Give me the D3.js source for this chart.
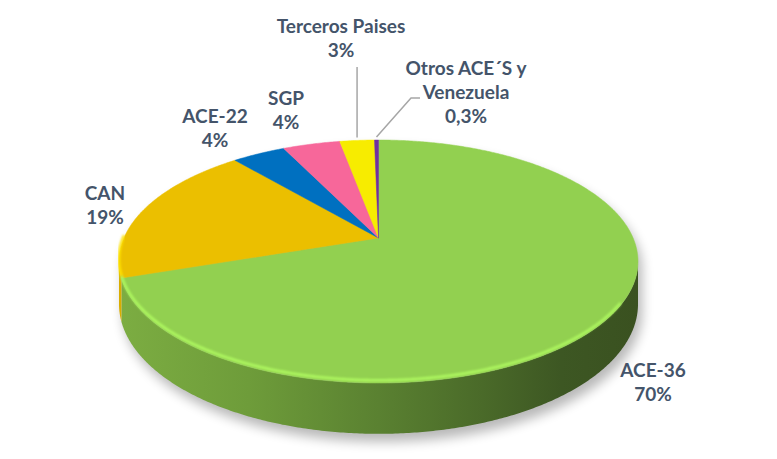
<!DOCTYPE html>
<html>
<head>
<meta charset="utf-8">
<script src="https://cdn.jsdelivr.net/npm/d3@7"></script>
<style>
  html, body { margin: 0; padding: 0; background: #ffffff; }
  svg { display: block; }
  text { font-family: Lato, "Liberation Sans", Arial, sans-serif; font-weight: bold; fill: #44546a; }
</style>
</head>
<body>
<svg id="chart" width="777" height="459"></svg>
<script>
// ---- data ----
const categories = ["ACE-36", "CAN", "ACE-22", "SGP", "Terceros Paises", "Otros ACE´S y Venezuela"];
const values = [69.8, 19.0, 4.0, 4.3, 2.6, 0.3];
const percentLabels = ["70%", "19%", "4%", "4%", "3%", "0,3%"];
const labelLines = [["ACE-36"], ["CAN"], ["ACE-22"], ["SGP"], ["Terceros Paises"], ["Otros ACE´S y", "Venezuela"]];

// ---- styling / layout ----
const topColors = ["#92d050", "#ebbf00", "#0070c0", "#f7679a", "#f7ec00", "#7030a0"];
const sideColors = [null, "#d9ad00", "#005a9c", "#d94f80", "#d8cc00", "#5a2080"];
const labelAnchors = [[653, 377], [105, 200], [215, 123], [286, 105], [341, 33], [466, 75]];
const lineH = 24;

const svg = d3.select("#chart");
const cx = 378.5, cy = 238;        // projected centre of the top face
const A = 254.6, B = 116.95;       // horizontal / vertical radii factors
const k = 0.1934;                  // perspective factor
const T = 41;                      // thickness

function proj(theta, depth) {
  const u = Math.sin(theta), v = -Math.cos(theta);
  const w = 1 - k * v;
  return [cx + A * u / w, cy + (B * v + depth) / w];
}
function arcPts(a0, a1, depth) {
  const n = Math.max(2, Math.ceil(Math.abs(a1 - a0) / (Math.PI / 360)));
  return d3.range(n + 1).map(i => proj(a0 + (a1 - a0) * i / n, depth));
}

const data = categories.map((c, i) => ({ name: c, value: values[i], i }));
const pie = d3.pie().sort(null).value(d => d.value).startAngle(0).endAngle(2 * Math.PI);
const arcs = pie(data);
const line = d3.line();

const defs = svg.append("defs");
const blur = defs.append("filter").attr("id", "shadowBlur")
  .attr("x", "-20%").attr("y", "-20%").attr("width", "140%").attr("height", "140%");
blur.append("feGaussianBlur").attr("stdDeviation", 6);
const soft = defs.append("filter").attr("id", "soft")
  .attr("x", "-5%").attr("y", "-5%").attr("width", "110%").attr("height", "110%");
soft.append("feGaussianBlur").attr("stdDeviation", 1.2);

const grad = defs.append("linearGradient").attr("id", "greenSide")
  .attr("gradientUnits", "userSpaceOnUse").attr("x1", cx - A * 1.02).attr("x2", cx + A * 1.02).attr("y1", 0).attr("y2", 0);
[[0, "#7cad42"], [0.25, "#6e9c3a"], [0.5, "#5a8131"], [0.7, "#4a6a29"], [0.85, "#3d5723"], [1, "#3a5120"]]
  .forEach(([o, c]) => grad.append("stop").attr("offset", o).attr("stop-color", c));

// visible side range
const thR = Math.PI / 2 + Math.asin(k), thL = 3 * Math.PI / 2 - Math.asin(k);

// shadow
const outline = arcPts(thL, thR + 2 * Math.PI, 0).concat(arcPts(thR, thL, T));
svg.append("path")
  .attr("d", line(outline) + "Z")
  .attr("transform", "translate(4,8)")
  .attr("fill", "#000").attr("opacity", 0.28)
  .attr("filter", "url(#shadowBlur)");

// sides
arcs.forEach(a => {
  const a0 = Math.max(a.startAngle, thR), a1 = Math.min(a.endAngle, thL);
  if (a1 <= a0) return;
  const pts = arcPts(a0, a1, 0).concat(arcPts(a1, a0, T));
  svg.append("path").attr("d", line(pts) + "Z")
    .attr("fill", a.index === 0 ? "url(#greenSide)" : sideColors[a.index]);
});

// top faces
arcs.forEach(a => {
  const pts = [[cx, cy]].concat(arcPts(a.startAngle, a.endAngle, 0));
  svg.append("path").attr("d", line(pts) + "Z")
    .attr("fill", topColors[a.index])
    .attr("stroke", topColors[a.index]).attr("stroke-width", 0.5);
});

// rim highlight along front edge
arcs.forEach(a => {
  const a0 = Math.max(a.startAngle, thR + 0.35), a1 = Math.min(a.endAngle, thL + 0.2);
  if (a1 <= a0) return;
  const pts = arcPts(a0, a1, -2.2);
  svg.append("path").attr("d", line(pts))
    .attr("fill", "none")
    .attr("stroke", d3.color(topColors[a.index]).brighter(0.5))
    .attr("stroke-width", 2.6)
    .attr("filter", "url(#soft)");
});

// leader lines
const leaderColor = "#a6a6a6";
function leader(pts) {
  svg.append("path").attr("d", line(pts)).attr("fill", "none")
    .attr("stroke", leaderColor).attr("stroke-width", 1.5);
}
{
  const a = arcs[4];
  const p = proj((a.startAngle + a.endAngle) / 2, 0);
  leader([[p[0], 67], [p[0], p[1] - 3]]);
}
{
  const a = arcs[5];
  const p = proj((a.startAngle + a.endAngle) / 2, 0);
  leader([[420, 98], [411, 98], [p[0], p[1] - 3]]);
}

// labels
arcs.forEach(a => {
  const i = a.index;
  const [x, y] = labelAnchors[i];
  const lines = labelLines[i].concat([percentLabels[i]]);
  const t = svg.append("text").attr("text-anchor", "middle").attr("font-size", 19);
  lines.forEach((l, j) => t.append("tspan").attr("x", x).attr("y", y + j * lineH).text(l));
});
</script>
</body>
</html>
